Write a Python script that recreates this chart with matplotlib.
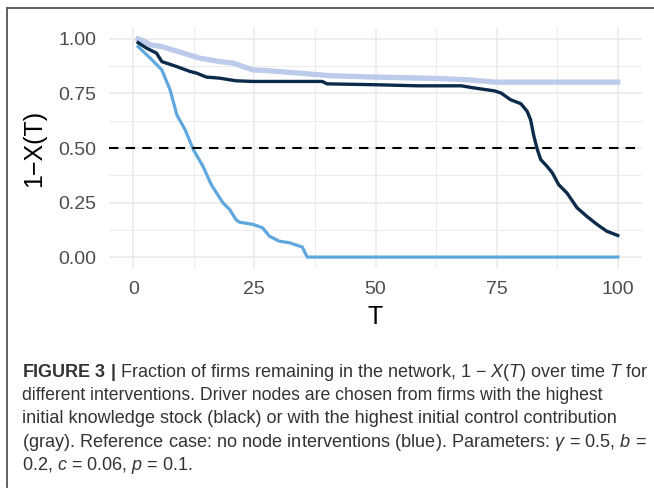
import matplotlib
matplotlib.use('Agg')
import matplotlib.pyplot as plt
from matplotlib.ticker import MultipleLocator
from matplotlib.lines import Line2D

# --- Data ---
T_blue = [1, 3.5, 5.9, 7.6, 9, 10.7, 12.4, 14.4, 16.1, 18.5, 19.9, 21.2, 21.9,
          24.7, 26.7, 28.1, 30.1, 32.2, 34.9, 35.9, 100]
y_blue = [0.965, 0.912, 0.858, 0.767, 0.652, 0.584, 0.493, 0.416, 0.332, 0.249,
          0.218, 0.172, 0.160, 0.150, 0.134, 0.096, 0.073, 0.066, 0.046, 0.0, 0.0]

T_black = [1, 2.8, 4.8, 5.9, 9, 11.7, 13.1, 15.1, 17.9, 21.2, 24.7, 39, 40, 49.9,
           58.8, 67.7, 70.4, 74.5, 75.9, 77.9, 80, 81.3, 82, 82.7, 83.4, 84.1,
           85.4, 86.5, 87.8, 89.5, 91.6, 93.6, 95.7, 97.7, 100]
y_black = [0.983, 0.957, 0.935, 0.896, 0.873, 0.851, 0.843, 0.825, 0.820, 0.808,
           0.805, 0.805, 0.794, 0.790, 0.785, 0.785, 0.775, 0.762, 0.752, 0.721,
           0.703, 0.668, 0.630, 0.553, 0.493, 0.447, 0.416, 0.386, 0.332, 0.294,
           0.226, 0.187, 0.150, 0.119, 0.099]

T_gray = [1, 2.2, 3.5, 5.9, 10.3, 13.7, 17.9, 20.6, 24.7, 27.4, 34.2, 41, 49.9,
          62.2, 69, 74.5, 100]
y_gray = [1.0, 0.99, 0.973, 0.965, 0.935, 0.912, 0.896, 0.889, 0.858, 0.855,
          0.843, 0.831, 0.825, 0.819, 0.813, 0.802, 0.802]

threshold = 0.5

caption_lines = [
    r"$\mathbf{FIGURE\ 3\ |}$ Fraction of firms remaining in the network, 1 " + "\u2212"
    + r" $X$($T$) over time $T$ for",
    "different interventions. Driver nodes are chosen from firms with the highest",
    "initial knowledge stock (black) or with the highest initial control contribution",
    r"(gray). Reference case: no node interventions (blue). Parameters: $\gamma$ = 0.5, $b$ =",
    r"0.2, $c$ = 0.06, $p$ = 0.1.",
]
# right edge (px) of each caption line in the reference; None = use common size
caption_right = [647, 603, 615, 646, None]

# --- Style ---
FONT = 'Liberation Sans'
NAVY = '#0c2b4b'
LIGHT_BLUE = '#5ea7df'
LAVENDER = '#bccbea'
GRID = '#ebebeb'
TICK_COLOR = '#4d4d4d'
BORDER = '#555555'

plt.rcParams['font.family'] = FONT
plt.rcParams['mathtext.fontset'] = 'custom'
plt.rcParams['mathtext.rm'] = FONT
plt.rcParams['mathtext.it'] = FONT + ':italic'
plt.rcParams['mathtext.bf'] = FONT + ':bold'

W, H = 654, 490
fig = plt.figure(figsize=(W / 100, H / 100), dpi=100)
fig.set_facecolor('white')

ax = fig.add_axes([109 / W, 1 - 268 / H, 533 / W, 240 / H])
ax.set_xlim(-5, 105)
ax.set_ylim(-0.05, 1.05)

ax.plot(T_gray, y_gray, color=LAVENDER, lw=3.8, solid_joinstyle='round', zorder=3)
ax.plot(T_blue, y_blue, color=LIGHT_BLUE, lw=2.3, solid_joinstyle='round', zorder=4)
ax.plot(T_black, y_black, color=NAVY, lw=2.4, solid_joinstyle='round', zorder=5)
ax.axhline(threshold, color='black', lw=1.5, linestyle=(0, (4.5, 3.5)), zorder=6)

# ggplot theme_minimal look
for s in ax.spines.values():
    s.set_visible(False)
ax.xaxis.set_major_locator(MultipleLocator(25))
ax.xaxis.set_minor_locator(MultipleLocator(12.5))
ax.yaxis.set_major_locator(MultipleLocator(0.25))
ax.yaxis.set_minor_locator(MultipleLocator(0.125))
ax.set_yticks([0, 0.25, 0.5, 0.75, 1.0])
ax.set_yticklabels(['0.00', '0.25', '0.50', '0.75', '1.00'])
ax.grid(which='major', color=GRID, lw=1.2)
ax.grid(which='minor', color=GRID, lw=0.7)
ax.set_axisbelow(True)
ax.tick_params(which='both', length=0)
ax.tick_params(axis='y', pad=9, labelsize=14, labelcolor=TICK_COLOR)
ax.tick_params(axis='x', pad=9, labelsize=14, labelcolor=TICK_COLOR)

ax.set_xlabel('T', fontsize=18, va='center')
ax.set_ylabel('1\u2212X(T)', fontsize=18, va='center')
ax.xaxis.set_label_coords(0.5, (268 - 317) / 240)
ax.yaxis.set_label_coords((34 - 109) / 533, 0.5)

# frame lines of the figure panel
fig.add_artist(Line2D([7 / W, 1.0], [1 - 8 / H, 1 - 8 / H], color=BORDER, lw=1.3))
fig.add_artist(Line2D([7 / W, 7 / W], [1 - 8 / H, 1 - 487 / H], color=BORDER, lw=1.3))

# caption: fit each line to the reference line length
LEFT = 22
BASE = 13.0
baselines = [377, 400, 423, 446.5, 470]
texts = []
for line, b in zip(caption_lines, baselines):
    t = fig.text(LEFT / W, 1 - b / H, line, fontsize=BASE, color='#333333',
                 ha='left', va='baseline')
    texts.append(t)

fig.canvas.draw()
renderer = fig.canvas.get_renderer()
sizes = []
for t, right in zip(texts, caption_right):
    if right is None:
        continue
    w = t.get_window_extent(renderer).width
    size = BASE * (right - LEFT) / w
    t.set_fontsize(size)
    sizes.append(size)
common = sorted(sizes)[len(sizes) // 2]
for t, right in zip(texts, caption_right):
    if right is None:
        t.set_fontsize(common)

fig.savefig('out.png', dpi=100, facecolor='white')
